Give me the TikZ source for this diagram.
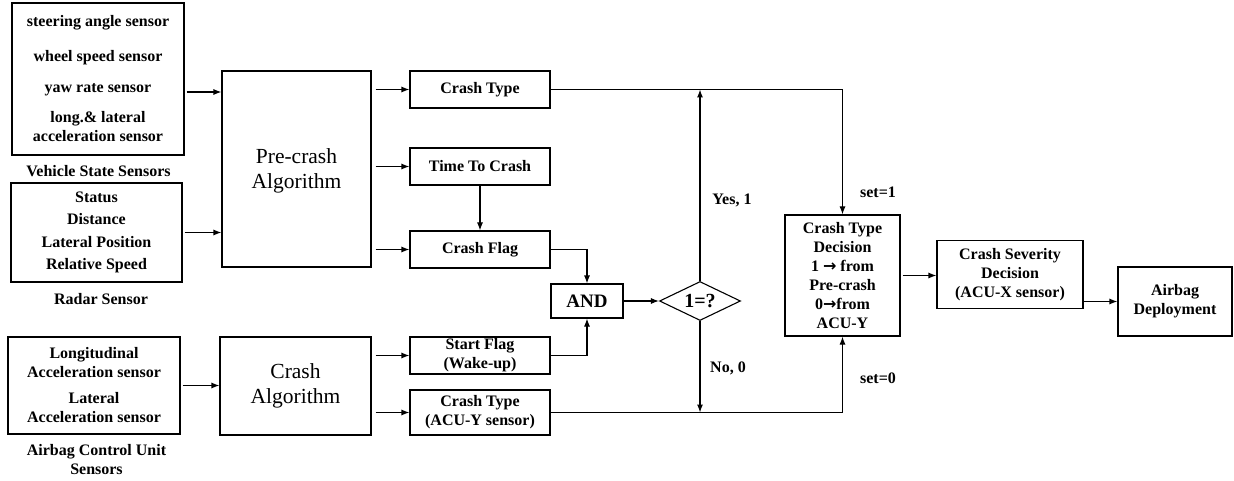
\documentclass[tikz,border=0pt]{standalone}
\usepackage{fontspec}
\setmainfont{Liberation Serif}
\newfontfamily\pfeilfont{DejaVu Sans}
\usepackage{tikz}
\usetikzlibrary{arrows.meta,calc,shapes.geometric}
\newcommand{\fpfeil}{{\pfeilfont\bfseries →}}

\begin{document}
\begin{tikzpicture}[x=1pt,y=-1pt,
  font=\fontsize{16}{19}\selectfont\bfseries,
  kasten/.style={draw,line width=1.1pt,align=center,inner sep=0pt},
  gross/.style={font=\fontsize{21.5}{25.5}\selectfont},
  pfeil/.style={line width=1.1pt,-{Latex[length=8pt,width=6pt]}}]
\useasboundingbox (0,0) rectangle (1234,481);
%Sensoren links
\node[kasten,minimum width=172,minimum height=152] (vss) at (98,79) {steering angle sensor\\[16pt] wheel speed sensor\\[12pt] yaw rate sensor\\[11pt] long.\& lateral\\ acceleration sensor};
\node (vsslabel) at (98.5,171) {Vehicle State Sensors};
\node[kasten,minimum width=171,minimum height=99,font=\fontsize{16}{22.3}\selectfont\bfseries] (radar) at (96.5,232.5) {Status\\Distance\\Lateral Position\\Relative Speed};
\node (radarlabel) at (101,299) {Radar Sensor};
\node[kasten,minimum width=172,minimum height=97] (acus) at (94,385.5) {Longitudinal\\Acceleration sensor\\[7pt]Lateral\\Acceleration sensor};
\node[align=center] (aculabel) at (96.5,459.5) {Airbag Control Unit\\Sensors};
%Algorithmen
\node[kasten,gross,minimum width=149,minimum height=196] (precrash) at (296.5,169) {\\[-7pt]Pre-crash\\Algorithm};
\node[kasten,gross,minimum width=151,minimum height=98] (crashalg) at (295.5,386) {Crash\\Algorithm};
%Ausgaenge
\node[kasten,minimum width=140,minimum height=37] (crashtype) at (480,89.5) {Crash Type};
\node[kasten,minimum width=140,minimum height=37] (ttc) at (480,166.5) {Time To Crash};
\node[kasten,minimum width=140,minimum height=37] (flag) at (480,249.5) {Crash Flag};
\node[kasten,minimum width=140,minimum height=37] (start) at (480,355.5) {Start Flag\\(Wake-up)};
\node[kasten,minimum width=140,minimum height=45] (acuy) at (480,412.5) {Crash Type\\(ACU-Y sensor)};
\node[kasten,minimum width=72,minimum height=34,font=\fontsize{19}{22}\selectfont\bfseries] (and) at (587,301) {AND};
\node[kasten,diamond,aspect=2,minimum width=81,minimum height=39,font=\fontsize{20}{22}\selectfont\bfseries] (dia) at (700,301) {1=?};
%Entscheidung rechts
\node[kasten,minimum width=115,minimum height=121] (ctd) at (842.5,275.5) {Crash Type\\Decision\\1 \fpfeil{} from\\Pre-crash\\0\fpfeil from\\ACU-Y};
\node[kasten,minimum width=146,minimum height=68] (csd) at (1010,274.5) {Crash Severity\\Decision\\(ACU-X sensor)};
\node[kasten,minimum width=114,minimum height=69] (airbag) at (1175,301.5) {Airbag\\Deployment};
\node (yes) at (732,200) {Yes, 1};
\node (no) at (728,368) {No, 0};
\node (set1) at (878,192) {set=1};
\node (set0) at (878,378) {set=0};
%Verbindungen
\draw[pfeil,shorten <=2pt] ([yshift=-13pt]vss.east) -- ([yshift=-13pt]vss.east -| precrash.west);
\draw[pfeil,shorten <=2pt] (radar.east) -- (radar.east -| precrash.west);
\draw[pfeil,shorten <=2pt] (acus.east) -- (acus.east -| crashalg.west);
\foreach \ziel in {crashtype,ttc,flag}{
\draw[pfeil,shorten <=4pt] (precrash.east |- \ziel.west) -- (\ziel.west);
}
\foreach \ziel in {start,acuy}{
\draw[pfeil,shorten <=4pt] (crashalg.east |- \ziel.west) -- (\ziel.west);
}
\draw[pfeil] (ttc.south) -- (flag.north);
\draw[pfeil] (flag.east) -| (and.north);
\draw[pfeil] (start.east) -| (and.south);
\draw[pfeil] (and.east) -- (dia.west);
\draw[pfeil] (dia.north) -- (dia.north |- crashtype.east);
\draw[pfeil] (dia.south) -- (dia.south |- acuy.east);
\draw[pfeil] (crashtype.east) -| (ctd.north);
\draw[pfeil] (acuy.east) -| (ctd.south);
\draw[pfeil,shorten <=2pt] (ctd.east) -- (ctd.east -| csd.west);
\draw[pfeil] (csd.east |- airbag.west) -- (airbag.west);
\end{tikzpicture}
\end{document}
